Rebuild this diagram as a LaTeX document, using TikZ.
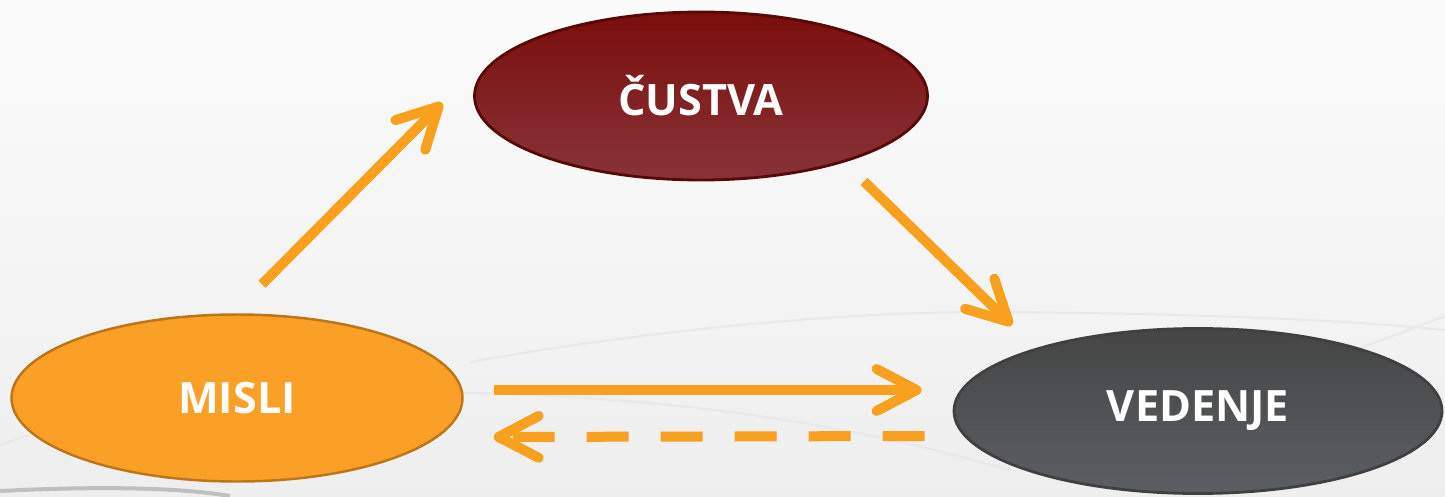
\documentclass[tikz,border=0pt]{standalone}
\usepackage{fontspec}
\setmainfont{Open Sans}
\usepackage{tikz}
\usepackage{xcolor}
\usetikzlibrary{positioning,calc,shapes.geometric,arrows.meta}

\definecolor{flowOrange}{HTML}{F9A01E}
\definecolor{misliFill}{HTML}{FBA026}
\definecolor{misliEdge}{HTML}{BC761A}
\definecolor{custvaTop}{HTML}{7A0E0C}
\definecolor{custvaBot}{HTML}{883338}
\definecolor{vedenjeTop}{HTML}{454545}
\definecolor{vedenjeBot}{HTML}{5B5E63}

\begin{document}
\begin{tikzpicture}[x=0.1mm, y=-0.1mm,
    bubble/.style={draw, ellipse, inner sep=0pt, text=white,
        font=\fontsize{12.3}{14}\selectfont\bfseries},
    flow/.style={draw=flowOrange, line width=1mm,
        -{Straight Barb[length=4mm, width=4.2mm, round]}},
    swoosh/.style={draw=gray!17, line width=0.2mm}]
            % Background
            \shade[top color=gray!3, bottom color=gray!13] (0,0) rectangle (1445,496);
            \useasboundingbox (0,0) rectangle (1445,496);
            \draw[swoosh] (0,445) .. controls (100,405) and (300,390) .. (480,393)
                .. controls (700,400) and (850,425) .. (1010,470);
            \draw[swoosh] (470,362) .. controls (650,330) and (850,310) .. (1014,312)
                .. controls (1200,314) and (1350,320) .. (1445,330);
            \draw[swoosh] (1445,316) -- (1340,356);
            \draw[draw=gray!50, line width=0.4mm] (0,491) .. controls (80,487) and (170,486) .. (230,496);

            % Nodes
            \node[bubble, fill=misliFill, draw=misliEdge, line width=0.7pt,
                minimum width=4.51cm, minimum height=1.67cm] (misli) at (237,398) {MISLI};
            \node[bubble, top color=custvaTop, bottom color=custvaBot, draw=custvaTop!70!black,
                line width=0.8pt, minimum width=4.53cm, minimum height=1.68cm] (custva) at (701,96) {ČUSTVA};
            \node[bubble, top color=vedenjeTop, bottom color=vedenjeBot, draw=black!75,
                line width=0.8pt, minimum width=4.88cm, minimum height=1.65cm] (vedenje) at (1198,411) {VEDENJE};

            % Arrows
            \draw[flow] ($(misli.north)+(25,-29)$) -- ($(custva.west)+(-31,7)$);
            \draw[flow] ($(custva.south)+(163,0)$) -- ($(vedenje.north)+(-186,-2)$);
            \draw[flow] ($(misli.east)+(30,-8)$) -- ($(vedenje.west)+(-31,-21)$);
            \draw[flow, dash pattern=on 4.2mm off 3.2mm] ($(vedenje.west)+(-28,25)$) -- ($(misli.east)+(30,39)$);
        \end{tikzpicture}
\end{document}
